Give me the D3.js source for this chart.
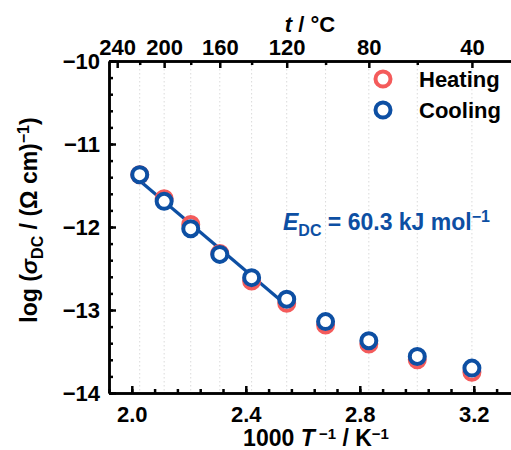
<!DOCTYPE html>
<html>
<head>
<meta charset="utf-8">
<script src="https://cdn.jsdelivr.net/npm/d3@7"></script>
<style>
  body { margin: 0; background: #fff; }
  svg text { font-family: "Liberation Sans", Arial, sans-serif; font-weight: bold; }
</style>
</head>
<body>
<div id="chart"></div>
<script>
// data
const tempC = [220, 200, 180, 160, 140, 120, 100, 80, 60, 40];
const heating = [-11.37, -11.66, -11.97, -12.32, -12.65, -12.92, -13.18, -13.41, -13.60, -13.75];
const cooling = [-11.37, -11.69, -12.02, -12.33, -12.61, -12.87, -13.14, -13.37, -13.56, -13.70];
const fitCount = 6; // Arrhenius fit over the first six cooling points

const xTicks = [2.0, 2.4, 2.8, 3.2];
const yTicks = [-10, -11, -12, -13, -14];
const topMajor = [240, 200, 160, 120, 80, 40];
const topMinor = [220, 180, 140, 100, 60];

const red = "#f45b5b";
const blue = "#0d4fa3";

const width = 511, height = 450;
const toInv = t => 1000 / (t + 273.15);
const invT = tempC.map(toInv);

const svg = d3.select("#chart").append("svg")
    .attr("width", width)
    .attr("height", height);

// scales
const x = d3.scaleLinear().domain([1.92, 3.36]).range([109, 519.4]);
const y = d3.scaleLinear().domain([-14, -10]).range([393, 61]);

// dotted grid at every data temperature
svg.append("g")
  .selectAll("line")
  .data(invT)
  .join("line")
    .attr("x1", d => x(d)).attr("x2", d => x(d))
    .attr("y1", y(-10)).attr("y2", y(-14))
    .attr("stroke", "#dadada")
    .attr("stroke-width", 1)
    .attr("stroke-dasharray", "1.5,2.5");

// linear fit
let fx = invT.slice(0, fitCount), fy = cooling.slice(0, fitCount);
let mx = d3.mean(fx), my = d3.mean(fy);
let slope = d3.sum(fx, (v, i) => (v - mx) * (fy[i] - my)) / d3.sum(fx, v => (v - mx) ** 2);
let icpt = my - slope * mx;
let x0 = fx[0], x1 = fx[fitCount - 1];
svg.append("line")
    .attr("x1", x(x0)).attr("y1", y(icpt + slope * x0))
    .attr("x2", x(x1)).attr("y2", y(icpt + slope * x1))
    .attr("stroke", blue)
    .attr("stroke-width", 3.2);

function drawSeries(vals, color) {
  svg.append("g")
    .selectAll("circle")
    .data(vals)
    .join("circle")
      .attr("cx", (d, i) => x(invT[i]))
      .attr("cy", d => y(d))
      .attr("r", 7.5)
      .attr("fill", "#fff")
      .attr("stroke", color)
      .attr("stroke-width", 4);
}
drawSeries(heating, red);
drawSeries(cooling, blue);

// axes
function styleAxis(g) {
  g.selectAll("path, line").attr("stroke", "#000").attr("stroke-width", 2.5);
  g.selectAll("text").attr("font-size", 22).attr("fill", "#000")
    .attr("font-family", "'Liberation Sans', Arial, sans-serif").attr("font-weight", "bold");
}

// bottom
svg.append("g")
    .attr("transform", `translate(0,${y(-14)})`)
    .call(d3.axisBottom(x).tickValues(d3.range(24).map(i => 1.92 + 0.08 * i))
      .tickSizeInner(-4).tickSizeOuter(0).tickFormat(""))
    .call(styleAxis);
svg.append("g")
    .attr("transform", `translate(0,${y(-14)})`)
    .call(d3.axisBottom(x).tickValues(xTicks).tickFormat(d3.format(".1f"))
      .tickSizeInner(-7).tickSizeOuter(0).tickPadding(13))
    .call(styleAxis);

// top (temperature)
svg.append("g")
    .attr("transform", `translate(0,${y(-10)})`)
    .call(d3.axisTop(x).tickValues(topMinor.map(toInv))
      .tickSizeInner(-4).tickSizeOuter(0).tickFormat(""))
    .call(styleAxis);
svg.append("g")
    .attr("transform", `translate(0,${y(-10)})`)
    .call(d3.axisTop(x).tickValues(topMajor.map(toInv))
      .tickFormat((d, i) => topMajor[i])
      .tickSizeInner(-7).tickSizeOuter(0).tickPadding(6))
    .call(styleAxis);

// left
svg.append("g")
    .attr("transform", `translate(${x(1.92)},0)`)
    .call(d3.axisLeft(y).tickValues(d3.range(21).map(i => -14 + 0.2 * i))
      .tickSizeInner(-4).tickSizeOuter(0).tickFormat(""))
    .call(styleAxis);
svg.append("g")
    .attr("transform", `translate(${x(1.92)},0)`)
    .call(d3.axisLeft(y).tickValues(yTicks).tickFormat(d3.format("d"))
      .tickSizeInner(-7).tickSizeOuter(0).tickPadding(9))
    .call(styleAxis);

// axis titles
const xt = svg.append("text")
    .attr("x", 316).attr("y", 446)
    .attr("text-anchor", "middle")
    .attr("font-size", 23);
xt.append("tspan").text("1000 ");
xt.append("tspan").attr("font-style", "italic").text("T");
xt.append("tspan").attr("font-size", 15).attr("dy", -7).text(" −1");
xt.append("tspan").attr("dy", 7).text(" / K");
xt.append("tspan").attr("font-size", 15).attr("dy", -7).text("−1");

const tt = svg.append("text")
    .attr("x", 310).attr("y", 32)
    .attr("text-anchor", "middle")
    .attr("font-size", 22);
tt.append("tspan").attr("font-style", "italic").text("t");
tt.append("tspan").text(" / °C");

const yt = svg.append("text")
    .attr("transform", "translate(37,220) rotate(-90)")
    .attr("text-anchor", "middle")
    .attr("font-size", 23);
yt.append("tspan").text("log (");
yt.append("tspan").attr("font-style", "italic").text("σ");
yt.append("tspan").attr("font-size", 16).attr("dy", 6).text("DC");
yt.append("tspan").attr("dy", -6).text(" / (Ω cm)");
yt.append("tspan").attr("font-size", 16).attr("dy", -8).text("−1");
yt.append("tspan").attr("dy", 8).text(")");

// activation energy label
const et = svg.append("text")
    .attr("x", 283).attr("y", 230)
    .attr("font-size", 23)
    .attr("fill", blue);
et.append("tspan").attr("font-style", "italic").text("E");
et.append("tspan").attr("font-size", 16).attr("dy", 6).text("DC");
et.append("tspan").attr("dy", -6).text(" = 60.3 kJ mol");
et.append("tspan").attr("font-size", 16).attr("dy", -8).text("−1");

// legend
const legend = [
  { label: "Heating", color: red, cy: 79 },
  { label: "Cooling", color: blue, cy: 110 }
];
const lg = svg.append("g").selectAll("g").data(legend).join("g");
lg.append("circle")
    .attr("cx", 383).attr("cy", d => d.cy).attr("r", 7.5)
    .attr("fill", "#fff").attr("stroke", d => d.color).attr("stroke-width", 4);
lg.append("text")
    .attr("x", 419).attr("y", d => d.cy + 8)
    .attr("font-size", 22)
    .text(d => d.label);
</script>
</body>
</html>
